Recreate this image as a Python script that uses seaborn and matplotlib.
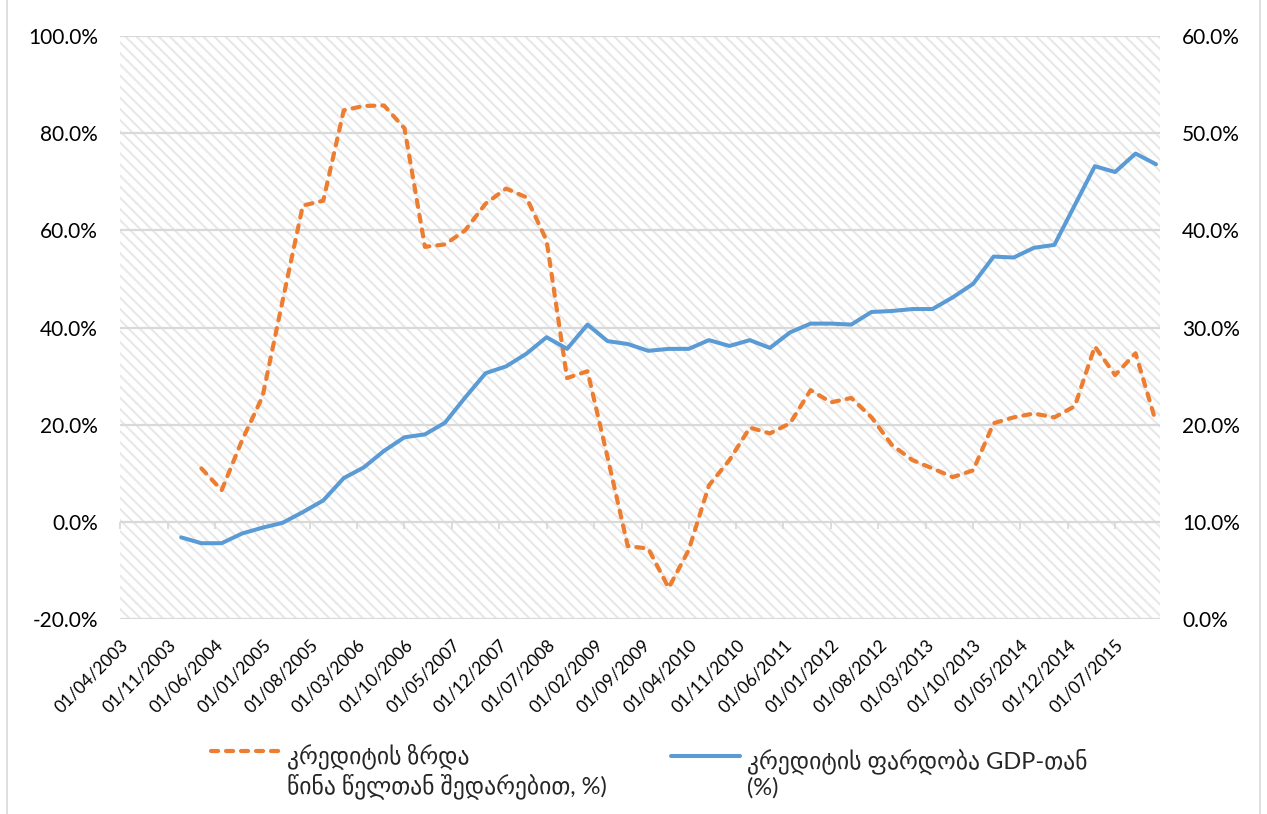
import numpy as np
import pandas as pd
import matplotlib
matplotlib.use('Agg')
import matplotlib.pyplot as plt
import matplotlib.dates as mdates
from matplotlib.patches import Rectangle
from matplotlib.ticker import FuncFormatter
import seaborn as sns

sns.set_style('white')
plt.rcParams['font.family'] = ['Lato', 'DejaVu Sans']
plt.rcParams['hatch.linewidth'] = 1.5

# quarterly observations, Jan 2004 - Jan 2016
quarters = pd.date_range('2004-01-01', '2016-01-01', freq='QS')

# credit growth y/y, % (left axis)
credit_growth = [np.nan, 11.0, 6.5, 16.8, 25.8, 45.5, 65.1, 66.1, 84.7, 85.6,
                 85.7, 81.0, 56.6, 57.1, 60.0, 65.5, 68.6, 66.8, 57.9, 29.6,
                 31.0, 13.3, -5.0, -5.5, -13.6, -5.8, 7.5, 12.7, 19.4, 18.2,
                 20.3, 27.1, 24.6, 25.5, 21.5, 15.8, 12.7, 11.0, 9.2, 10.6,
                 20.3, 21.5, 22.3, 21.5, 23.8, 36.1, 30.2, 34.7, 20.5]

# credit to GDP, % (right axis)
credit_gdp = [8.4, 7.8, 7.8, 8.8, 9.4, 9.9, 11.0, 12.2, 14.5, 15.6,
              17.3, 18.7, 19.0, 20.2, 22.8, 25.3, 26.0, 27.3, 29.0, 27.8,
              30.3, 28.6, 28.3, 27.6, 27.8, 27.8, 28.7, 28.1, 28.7, 27.9,
              29.5, 30.4, 30.4, 30.3, 31.6, 31.7, 31.9, 31.9, 33.1, 34.5,
              37.3, 37.2, 38.2, 38.5, 42.6, 46.6, 46.0, 47.9, 46.8]

tick_dates = pd.date_range('2003-04-01', '2015-07-01', freq='7MS')
left_ticks = [-20, 0, 20, 40, 60, 80, 100]
right_ticks = [0, 10, 20, 30, 40, 50, 60]

label_growth = 'კრედიტის ზრდა\nწინა წელთან შედარებით, %)'
label_gdp = 'კრედიტის ფარდობა GDP-თან\n(%)'

df = pd.DataFrame({'date': quarters, 'growth': credit_growth, 'ratio': credit_gdp})

orange = '#ED7D31'
blue = '#5B9BD5'
grid_c = '#d9d9d9'

fig = plt.figure(figsize=(12.67, 8.14), dpi=100)
ax = fig.add_axes([120 / 1267, 1 - 619 / 814, 1040 / 1267, 583 / 814])
ax2 = ax.twinx()

# hatched plot-area background
ax.add_patch(Rectangle((0, 0), 1, 1, transform=ax.transAxes, facecolor='white',
                       edgecolor='#e8e8e8', hatch='\\\\\\', lw=0, zorder=0))

sns.lineplot(data=df, x='date', y='growth', ax=ax, color=orange, lw=3.0,
             linestyle=(0, (1.7, 1.9)), dash_capstyle='round', legend=False)
sns.lineplot(data=df, x='date', y='ratio', ax=ax2, color=blue, lw=2.9,
             solid_capstyle='round', legend=False)

ax.set_xlim(pd.Timestamp('2003-04-01'), pd.Timestamp('2016-01-19'))
ax.set_ylim(-20, 100)
ax2.set_ylim(0, 60)
ax.set_yticks(left_ticks)
ax2.set_yticks(right_ticks)
pct = FuncFormatter(lambda v, p: f'{v:.1f}%')
ax.yaxis.set_major_formatter(pct)
ax2.yaxis.set_major_formatter(pct)

ax.set_xticks(tick_dates)
ax.xaxis.set_major_formatter(mdates.DateFormatter('%d/%m/%Y'))
plt.setp(ax.get_xticklabels(), rotation=45, ha='right', rotation_mode='anchor')

ax.set_axisbelow(True)
ax.grid(axis='y', color=grid_c, lw=1.6)
ax.grid(axis='x', visible=False)
ax2.grid(False)
for a in (ax, ax2):
    for s in a.spines.values():
        s.set_visible(False)
    a.set_xlabel('')
    a.set_ylabel('')

ax.tick_params(axis='y', length=0, pad=16, labelsize=15, labelcolor='black')
ax2.tick_params(axis='y', length=0, pad=16, labelsize=15, labelcolor='black')
ax.tick_params(axis='x', length=0, pad=13, labelsize=12.5, labelcolor='black')

# horizontal axis line crosses at 0 with small tick marks
sec = ax.secondary_xaxis(1 / 6)
sec.set_xticks(mdates.date2num(tick_dates))
sec.tick_params(axis='x', direction='out', length=5, width=1.3, color=grid_c,
                labelbottom=False, labeltop=False)
for s in sec.spines.values():
    s.set_visible(False)

leg = fig.legend([ax.lines[0], ax2.lines[0]], [label_growth, label_gdp], ncol=2,
                 loc='upper left', bbox_to_anchor=(211 / 1267, 1 - 743 / 814),
                 frameon=False, fontsize=17, handlelength=2.9, handletextpad=0.3,
                 columnspacing=2.75, borderpad=0, borderaxespad=0)
for col in leg._legend_handle_box.get_children():
    for row in col.get_children():
        row.align = 'top'

# light chart border
fig.add_artist(Rectangle((7 / 1267, -0.01), 1253 / 1267, 1.02,
                         transform=fig.transFigure, fill=False,
                         edgecolor=grid_c, lw=1.2))

fig.savefig('out.png', dpi=100)
